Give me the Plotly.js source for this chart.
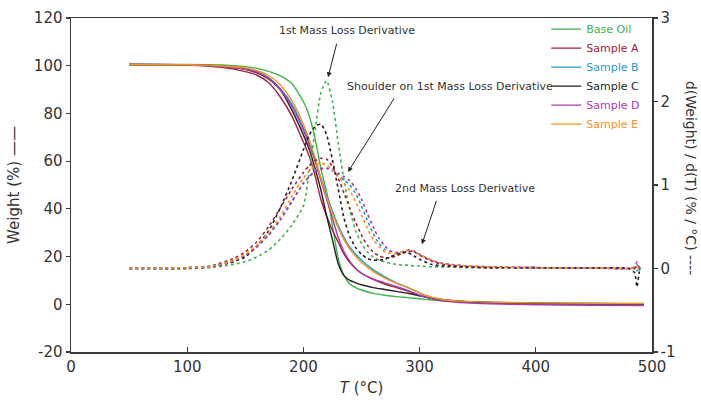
<!DOCTYPE html>
<html>
<head>
<meta charset="utf-8">
<script src="https://cdn.plot.ly/plotly-3.0.1.min.js"></script>
<style>html,body{margin:0;padding:0;background:#fff;}#chart{width:701px;height:411px;}</style>
</head>
<body>
<div id="chart"></div>
<script>
// ---- Data ----
const seriesNames = ["Base Oil", "Sample A", "Sample B", "Sample C", "Sample D", "Sample E"];
const seriesColors = ["#3cb44a", "#a3203a", "#1b9ad6", "#231f20", "#a83ca8", "#f7941d"];

// Weight (%) vs T
const tWeight = [50, 100, 130, 150, 160, 170, 180, 190, 200, 205, 210, 215, 220, 225, 230, 235, 240, 245, 250, 260, 270, 280, 290, 300, 310, 320, 340, 360, 400, 450, 493];
const weightBaseOil = [100.5, 100.5, 100.3, 99.6, 98.9, 97.6, 95.8, 92.5, 85, 79, 69.5, 57, 47, 33, 19, 12, 8.5, 7, 6, 4.6, 3.8, 3.2, 2.8, 2.3, 1.8, 1.4, 1.0, 0.7, 0.4, 0.2, 0.0];
const weightA = [100.5, 100.3, 99.3, 97.5, 96, 93, 87, 79, 68, 62, 54, 44, 37, 31, 26, 21, 17.5, 15, 13, 10.5, 8.5, 7, 5.5, 3.8, 2.6, 1.8, 1.0, 0.6, 0.2, 0.0, -0.3];
const weightB = [100.5, 100.4, 99.8, 98.8, 97.5, 95, 90.5, 84, 74, 68, 61, 53, 46, 39, 33, 28, 24, 21, 18.5, 14.5, 11.5, 9, 7, 4.8, 3, 2, 1.2, 0.8, 0.5, 0.3, 0.2];
const weightC = [100.5, 100.4, 99.8, 98.5, 97, 94.5, 90, 81.5, 71, 65, 57, 48, 37, 27, 17, 12, 10, 9, 8.2, 7, 6.2, 5.4, 4.6, 3.5, 2.5, 1.8, 1.1, 0.8, 0.5, 0.3, 0.1];
const weightD = [100.5, 100.4, 99.7, 98.5, 97.2, 94.7, 90, 83, 73, 67, 60, 52, 44, 36, 28, 22, 18, 15, 13, 10.5, 9, 7.5, 5.8, 3.8, 2.4, 1.5, 0.6, 0.2, -0.2, -0.4, -0.5];
const weightE = [100.5, 100.4, 99.9, 99.1, 98, 96, 92, 85.5, 75.5, 69, 61.5, 53, 45, 38, 32, 27, 23, 20, 17.5, 13.8, 11, 8.8, 7, 4.8, 3, 2, 1.2, 0.9, 0.6, 0.4, 0.3];

// Derivative d(Weight)/dT (%/°C) vs T
const tDeriv = [50, 100, 120, 140, 150, 160, 170, 180, 190, 200, 205, 210, 215, 220, 225, 230, 235, 240, 245, 250, 255, 260, 265, 270, 275, 280, 285, 290, 295, 300, 310, 320, 340, 360, 400, 450, 480, 485, 487, 489, 490];
const derivBaseOil = [0, 0, 0.01, 0.05, 0.08, 0.14, 0.22, 0.35, 0.52, 0.75, 1.15, 1.65, 2.1, 2.25, 2.0, 1.5, 1.05, 0.7, 0.45, 0.3, 0.2, 0.14, 0.1, 0.08, 0.06, 0.05, 0.04, 0.04, 0.03, 0.03, 0.02, 0.02, 0.01, 0.01, 0.01, 0.005, 0, 0, 0.05, -0.02, 0];
const derivA = [0, 0.01, 0.03, 0.12, 0.2, 0.32, 0.5, 0.72, 0.95, 1.15, 1.23, 1.29, 1.32, 1.31, 1.22, 1.08, 0.9, 0.72, 0.55, 0.4, 0.28, 0.2, 0.15, 0.13, 0.13, 0.15, 0.18, 0.21, 0.2, 0.16, 0.09, 0.05, 0.02, 0.01, 0.01, 0.005, 0, 0, 0.03, 0, 0];
const derivB = [0, 0.01, 0.02, 0.09, 0.16, 0.26, 0.4, 0.58, 0.8, 1.02, 1.1, 1.17, 1.2, 1.2, 1.17, 1.12, 1.06, 1.0, 0.9, 0.75, 0.58, 0.42, 0.3, 0.23, 0.2, 0.19, 0.2, 0.22, 0.21, 0.17, 0.1, 0.06, 0.03, 0.02, 0.01, 0.005, 0, 0.01, -0.03, 0.02, 0];
const derivC = [0, 0, 0.02, 0.08, 0.14, 0.27, 0.45, 0.72, 1.05, 1.42, 1.6, 1.7, 1.73, 1.6, 1.3, 0.95, 0.6, 0.38, 0.25, 0.17, 0.12, 0.1, 0.1, 0.11, 0.14, 0.17, 0.19, 0.19, 0.15, 0.11, 0.05, 0.03, 0.02, 0.01, 0.01, 0.005, 0, -0.05, -0.22, -0.05, 0];
const derivD = [0, 0.01, 0.02, 0.09, 0.16, 0.26, 0.4, 0.58, 0.8, 1.02, 1.1, 1.16, 1.19, 1.2, 1.18, 1.14, 1.1, 1.05, 0.96, 0.83, 0.66, 0.5, 0.36, 0.27, 0.21, 0.19, 0.2, 0.22, 0.21, 0.17, 0.1, 0.06, 0.03, 0.02, 0.01, 0.005, 0, 0.02, 0.08, 0.01, 0];
const derivE = [0, 0.01, 0.02, 0.1, 0.17, 0.28, 0.43, 0.62, 0.86, 1.08, 1.17, 1.23, 1.26, 1.24, 1.18, 1.1, 1.02, 0.93, 0.8, 0.64, 0.48, 0.35, 0.26, 0.2, 0.18, 0.18, 0.2, 0.22, 0.21, 0.17, 0.1, 0.06, 0.03, 0.02, 0.01, 0.005, 0, 0, 0.02, 0, 0];

const xTickVals = [0, 100, 200, 300, 400, 500];
const xTickText = ["0", "100", "200", "300", "400", "500"];
const yTickVals = [-20, 0, 20, 40, 60, 80, 100, 120];
const yTickText = ["-20", "0", "20", "40", "60", "80", "100", "120"];
const y2TickVals = [-1, 0, 1, 2, 3];
const y2TickText = ["-1", "0", "1", "2", "3"];

// ---- Build traces ----
const weights = [weightBaseOil, weightA, weightB, weightC, weightD, weightE];
const derivs = [derivBaseOil, derivA, derivB, derivC, derivD, derivE];
const traces = [];
derivs.forEach((d, i) => {
  traces.push({
    x: tDeriv, y: d, yaxis: 'y2', type: 'scatter', mode: 'lines',
    line: {color: seriesColors[i], width: 1.6, dash: 'dot', shape: 'spline', smoothing: 0.6},
    showlegend: false, hoverinfo: 'skip'
  });
});
weights.forEach((w, i) => {
  traces.push({
    x: tWeight, y: w, type: 'scatter', mode: 'lines',
    name: '<span style="color:' + seriesColors[i] + '">' + seriesNames[i] + '</span>',
    line: {color: seriesColors[i], width: 1.4, shape: 'spline', smoothing: 0.6}
  });
});

const FONT = 'DejaVu Sans, sans-serif';
const axisCol = '#3a3a3a';
const annFont = {family: FONT, size: 11, color: '#333'};

const layout = {
  width: 701, height: 411,
  margin: {l: 71, r: 49, t: 18, b: 59, pad: 0},
  paper_bgcolor: '#fff', plot_bgcolor: '#fff',
  font: {family: FONT, size: 15, color: '#333'},
  showlegend: true,
  legend: {
    x: 0.818, y: 1.01, xanchor: 'left', yanchor: 'top',
    bgcolor: 'rgba(0,0,0,0)', borderwidth: 0,
    font: {family: FONT, size: 11, color: '#333'},
    itemwidth: 30, tracegroupgap: 0
  },
  xaxis: {
    range: [0, 500], tickvals: xTickVals, ticktext: xTickText, ticks: 'inside', ticklen: 5, tickwidth: 1.2, tickcolor: axisCol,
    showline: true, linecolor: axisCol, linewidth: 1.5, mirror: true,
    showgrid: false, zeroline: false,
    tickfont: {family: FONT, size: 15, color: '#333'},
    title: {text: '<i>T</i> (°C)', font: {family: FONT, size: 15, color: '#333'}, standoff: 8}
  },
  yaxis: {
    range: [-20, 120], tickvals: yTickVals, ticktext: yTickText, ticks: 'outside', ticklen: 4, tickwidth: 1.2, tickcolor: axisCol,
    showline: true, linecolor: axisCol, linewidth: 1.5,
    showgrid: false, zeroline: false,
    tickfont: {family: FONT, size: 15, color: '#333'},
    title: {text: 'Weight (%) ——', font: {family: FONT, size: 15, color: '#333'}, standoff: 10}
  },
  yaxis2: {
    range: [-1, 3], tickvals: y2TickVals, ticktext: y2TickText, overlaying: 'y', side: 'right', anchor: 'x',
    ticks: 'outside', ticklen: 4, tickwidth: 1.2, tickcolor: axisCol,
    showline: true, linecolor: axisCol, linewidth: 1.5,
    showgrid: false, zeroline: false,
    tickfont: {family: FONT, size: 15, color: '#333'}
  },
  annotations: [
    {xref: 'paper', yref: 'paper', x: 1.066, y: 0.52, xanchor: 'center', yanchor: 'middle',
     text: 'd(Weight) / d(T) (% / °C) ----', textangle: 90, showarrow: false,
     font: {family: FONT, size: 14, color: '#333'}},
    {xref: 'x', yref: 'y2', x: 237.5, y: 2.856, text: '1st Mass Loss Derivative', showarrow: false, font: annFont},
    {xref: 'x', yref: 'y2', x: 326.2, y: 2.174, text: 'Shoulder on 1st Mass Loss Derivative', showarrow: false, font: annFont},
    {xref: 'x', yref: 'y2', x: 339, y: 0.964, text: '2nd Mass Loss Derivative', showarrow: false, font: annFont},
    {xref: 'x', yref: 'y2', x: 221.2, y: 2.29, ax: 9, ay: -35, text: '', showarrow: true,
     arrowhead: 2, arrowsize: 1, arrowwidth: 1, arrowcolor: '#222'},
    {xref: 'x', yref: 'y2', x: 238.4, y: 1.156, ax: 47, ay: -75, text: '', showarrow: true,
     arrowhead: 2, arrowsize: 1, arrowwidth: 1, arrowcolor: '#222'},
    {xref: 'x', yref: 'y2', x: 302, y: 0.29, ax: 15, ay: -45, text: '', showarrow: true,
     arrowhead: 2, arrowsize: 1, arrowwidth: 1, arrowcolor: '#222'}
  ]
};

Plotly.newPlot('chart', traces, layout, {displayModeBar: false, staticPlot: true});
</script>
</body>
</html>
